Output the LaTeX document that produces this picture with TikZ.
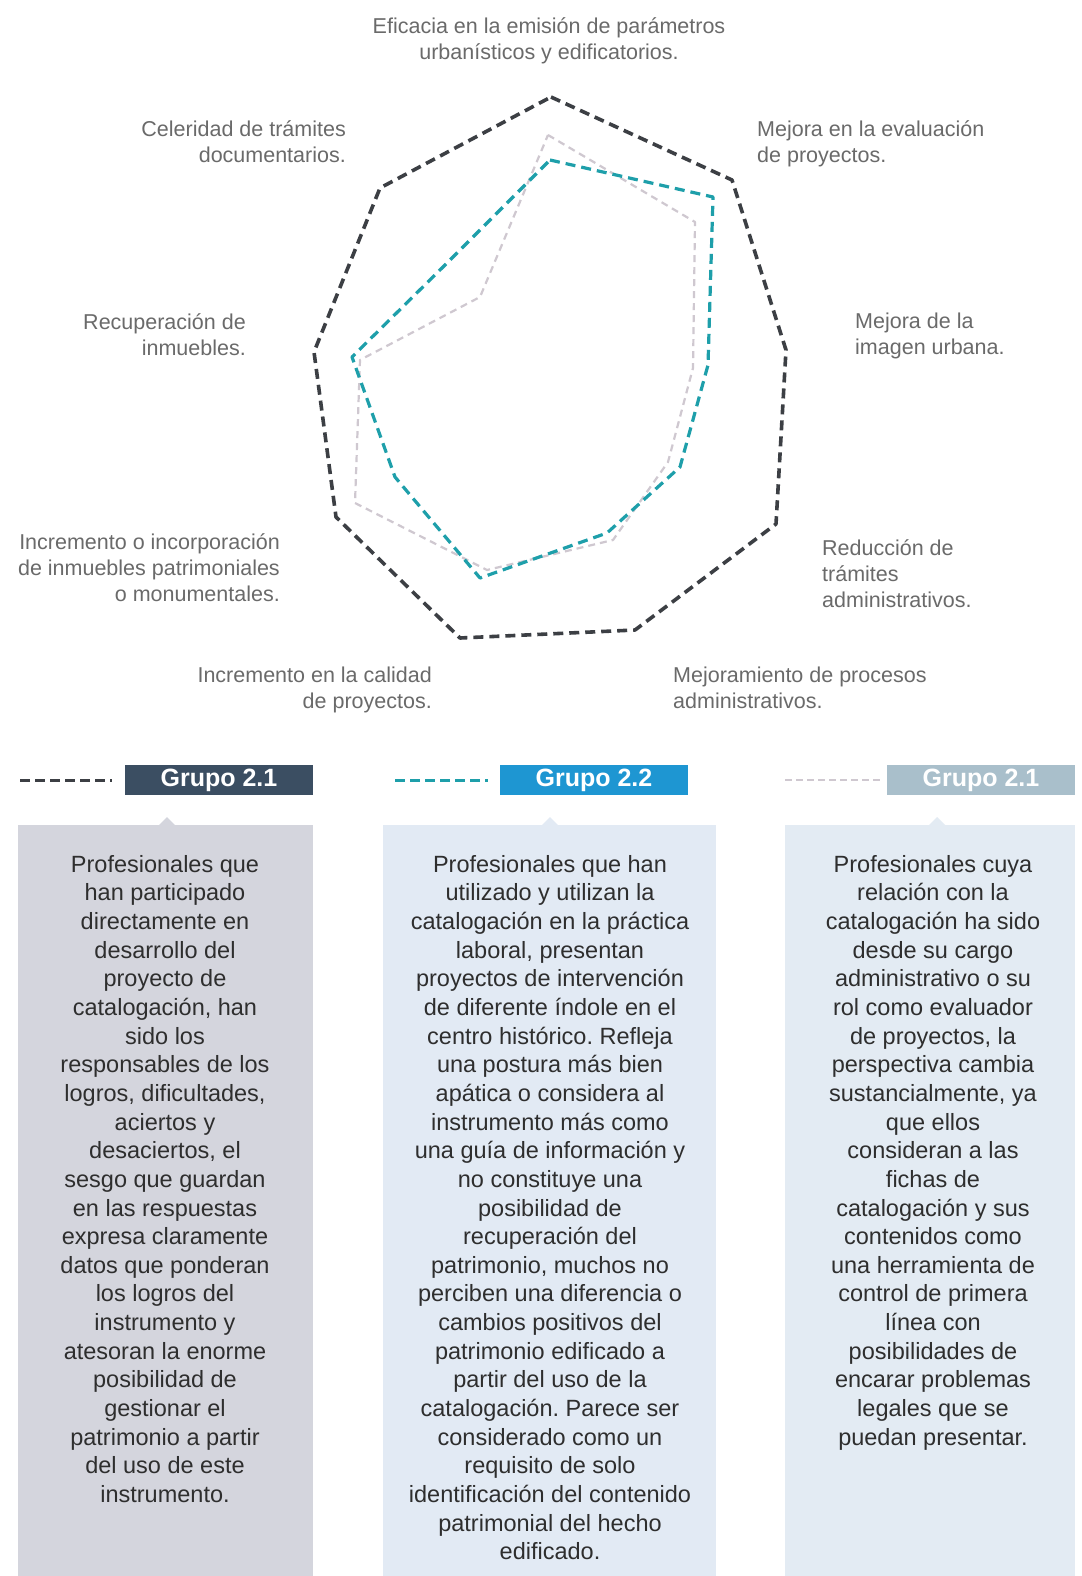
\documentclass[tikz,border=0pt]{standalone}
\usepackage{fontspec}
\setmainfont{Liberation Sans}
\frenchspacing
\definecolor{labelgray}{HTML}{6A6A6A}
\definecolor{bodytext}{HTML}{2E2E2E}
\definecolor{darkline}{HTML}{3C3F44}
\definecolor{tealline}{HTML}{1E9FAA}
\definecolor{grayline}{HTML}{CFC8D0}
\definecolor{legA}{HTML}{3B4E62}
\definecolor{legB}{HTML}{1E96D2}
\definecolor{legC}{HTML}{A9BFCB}
\definecolor{boxA}{HTML}{D4D5DD}
\definecolor{boxB}{HTML}{E2EAF4}
\definecolor{boxC}{HTML}{E3EBF3}
\begin{document}
\begin{tikzpicture}[x=1pt,y=-1pt,
  lbl/.style={text=labelgray, font=\fontsize{21.5}{26}\selectfont, inner sep=0pt},
  body/.style={text=bodytext, font=\fontsize{23.5}{28.65}\selectfont, inner sep=0pt, align=center, anchor=north},
  legbox/.style={minimum width=188pt, minimum height=30pt, inner sep=0pt, text=white, font=\fontsize{25}{25}\selectfont\bfseries},
  darkdash/.style={draw=darkline, line width=3.6pt, dash pattern=on 10pt off 6pt},
  tealdash/.style={draw=tealline, line width=3.2pt, dash pattern=on 10pt off 6pt},
  graydash/.style={draw=grayline, line width=2.2pt, dash pattern=on 7pt off 5pt}]
\useasboundingbox (0,0) rectangle (1081,1576);
\fill[white] (0,0) rectangle (1081,1576);

% ---------- radar chart ----------
\draw[graydash, line join=round] (548,135) -- (695,222) -- (693,368) -- (668,462) -- (613,540) -- (487,570) -- (355,503) -- (360,360) -- (480,297) -- cycle;
\draw[tealdash, line join=round] (550,160) -- (713,197) -- (708,365) -- (680,467) -- (607,533) -- (480,578) -- (395,477) -- (352,357) -- (443,267) -- cycle;
\draw[darkdash, line join=round] (551,97) -- (732,180) -- (786,350) -- (776,524) -- (635,630) -- (460,638) -- (336,517) -- (314,352) -- (380,188) -- cycle;

% ---------- axis labels ----------
\node[lbl, align=center, anchor=north] (l0) at (549,17) {Eficacia en la emisión de parámetros\\urbanísticos y edificatorios.};
\node[lbl, align=left, anchor=north west] (l1) at (757,120) {Mejora en la evaluación\\de proyectos.};
\node[lbl, align=left, anchor=north west] (l2) at (855,313) {Mejora de la\\imagen urbana.};
\node[lbl, align=left, anchor=north west] (l3) at (822,539) {Reducción de\\trámites\\administrativos.};
\node[lbl, align=left, anchor=north west] (l4) at (673,667) {Mejoramiento de procesos\\administrativos.};
\node[lbl, align=right, anchor=north east] (l5) at (432,667) {Incremento en la calidad\\de proyectos.};
\node[lbl, align=right, anchor=north east] (l6) at (280,533) {Incremento o incorporación\\de inmuebles patrimoniales\\o monumentales.};
\node[lbl, align=right, anchor=north east] (l7) at (246,313) {Recuperación de\\inmuebles.};
\node[lbl, align=right, anchor=north east] (l8) at (346,120) {Celeridad de trámites\\documentarios.};

% ---------- legend ----------
\coordinate (da1) at (20,780); \coordinate (da2) at (112,780);
\coordinate (db1) at (395,780); \coordinate (db2) at (488,780);
\coordinate (dc1) at (785,780); \coordinate (dc2) at (880,780);
\draw[darkline, line width=3pt, dash pattern=on 10pt off 5pt] (da1) -- (da2);
\draw[tealline, line width=3pt, dash pattern=on 10pt off 5pt] (db1) -- (db2);
\draw[grayline, line width=2pt, dash pattern=on 7pt off 4pt] (dc1) -- (dc2);
\node[legbox, fill=legA] (ga) at (219,780) {Grupo 2.1};
\node[legbox, fill=legB] (gb) at (594,780) {Grupo 2.2};
\node[legbox, fill=legC] (gc) at (981,780) {Grupo 2.1};

% ---------- description boxes ----------
\fill[boxA] (18,825) rectangle (313,1576);
\fill[boxB] (383,825) rectangle (716,1576);
\fill[boxC] (785,825) rectangle (1075,1576);
\fill[boxA] (159,825) -- (167,817) -- (175,825) -- cycle;
\fill[boxB] (542,825) -- (550,817) -- (558,825) -- cycle;
\fill[boxC] (929,825) -- (937,817) -- (945,825) -- cycle;

\node[body] (ta) at (165,855) {Profesionales que\\han participado\\directamente en\\desarrollo del\\proyecto de\\catalogación, han\\sido los\\responsables de los\\logros, dificultades,\\aciertos y\\desaciertos, el\\sesgo que guardan\\en las respuestas\\expresa claramente\\datos que ponderan\\los logros del\\instrumento y\\atesoran la enorme\\posibilidad de\\gestionar el\\patrimonio a partir\\del uso de este\\instrumento.};
\node[body] (tb) at (550,855) {Profesionales que han\\utilizado y utilizan la\\catalogación en la práctica\\laboral, presentan\\proyectos de intervención\\de diferente índole en el\\centro histórico. Refleja\\una postura más bien\\apática o considera al\\instrumento más como\\una guía de información y\\no constituye una\\posibilidad de\\recuperación del\\patrimonio, muchos no\\perciben una diferencia o\\cambios positivos del\\patrimonio edificado a\\partir del uso de la\\catalogación. Parece ser\\considerado como un\\requisito de solo\\identificación del contenido\\patrimonial del hecho\\edificado.};
\node[body] (tc) at (933,855) {Profesionales cuya\\relación con la\\catalogación ha sido\\desde su cargo\\administrativo o su\\rol como evaluador\\de proyectos, la\\perspectiva cambia\\sustancialmente, ya\\que ellos\\consideran a las\\fichas de\\catalogación y sus\\contenidos como\\una herramienta de\\control de primera\\línea con\\posibilidades de\\encarar problemas\\legales que se\\puedan presentar.};
\end{tikzpicture}
\end{document}
